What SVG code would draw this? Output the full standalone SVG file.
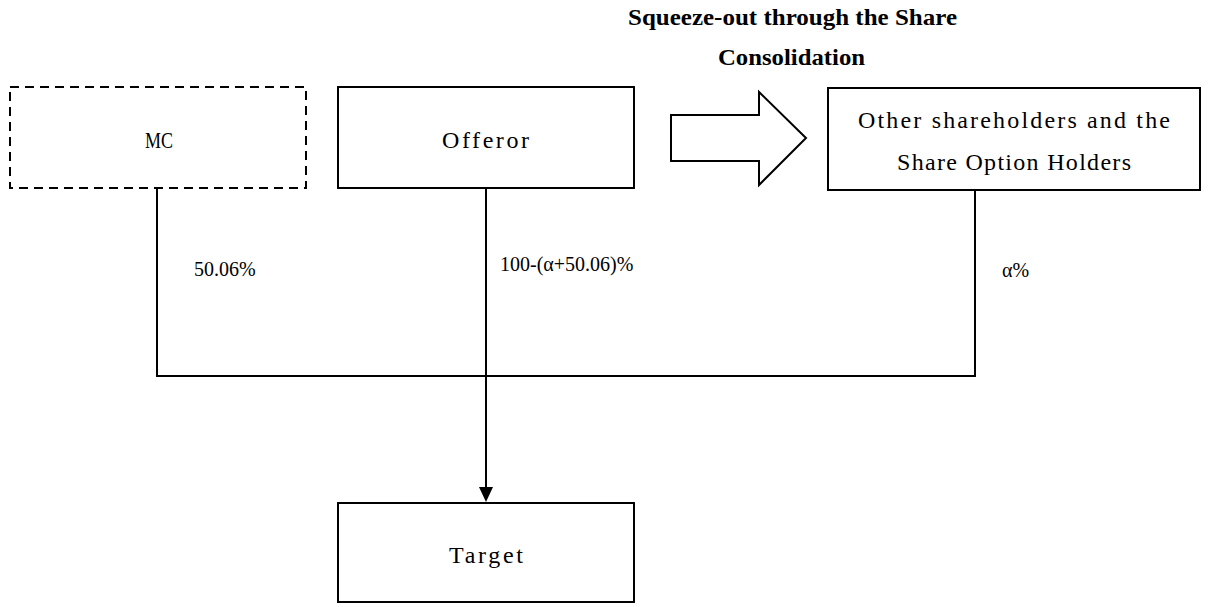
<svg xmlns="http://www.w3.org/2000/svg" width="1221" height="607" viewBox="0 0 1221 607">
<style>
.box{fill:#fff;stroke:#000;stroke-width:2}
.dash{fill:#fff;stroke:#000;stroke-width:2;stroke-dasharray:9 6}
.bt{font-family:"Liberation Serif",serif;font-size:24px;fill:#000}
.lbl{font-family:"Liberation Serif",serif;font-size:20px;fill:#000}
.ttl{font-family:"Liberation Serif",serif;font-size:23px;font-weight:bold;fill:#000}
.ln{fill:none;stroke:#000;stroke-width:2}
</style>
<g id="title">
<text class="ttl" x="628" y="25" textLength="329" lengthAdjust="spacingAndGlyphs">Squeeze-out through the Share</text>
<text class="ttl" x="718" y="65" textLength="147" lengthAdjust="spacingAndGlyphs">Consolidation</text>
</g>
<g id="connectors">
<polyline class="ln" points="157,189 157,376 975,376 975,190"/>
<line class="ln" x1="486" y1="188" x2="486" y2="488"/>
<path d="M479,487 L493,487 L486,502 Z" fill="#000"/>
<path d="M671,115 L759,115 L759,92 L806,138 L759,185 L759,161 L671,161 Z" fill="#fff" stroke="#000" stroke-width="2"/>
</g>
<g id="mc">
<rect class="dash" x="10" y="87" width="296" height="101"/>
<text class="bt" x="145" y="148" textLength="28" lengthAdjust="spacingAndGlyphs">MC</text>
</g>
<g id="offeror">
<rect class="box" x="338" y="87" width="296" height="101"/>
<text class="bt" x="442" y="148" textLength="87" lengthAdjust="spacing">Offeror</text>
</g>
<g id="others">
<rect class="box" x="828" y="88" width="372" height="102"/>
<text class="bt" x="858" y="128" textLength="312" lengthAdjust="spacing">Other shareholders and the</text>
<text class="bt" x="897" y="170" textLength="234" lengthAdjust="spacing">Share Option Holders</text>
</g>
<g id="target">
<rect class="box" x="338" y="503" width="296" height="99"/>
<text class="bt" x="449" y="563" textLength="74" lengthAdjust="spacing">Target</text>
</g>
<g id="labels">
<text class="lbl" x="194" y="276">50.06%</text>
<text class="lbl" x="500" y="271">100-(α+50.06)%</text>
<text class="lbl" x="1002" y="277">α%</text>
</g>
</svg>
